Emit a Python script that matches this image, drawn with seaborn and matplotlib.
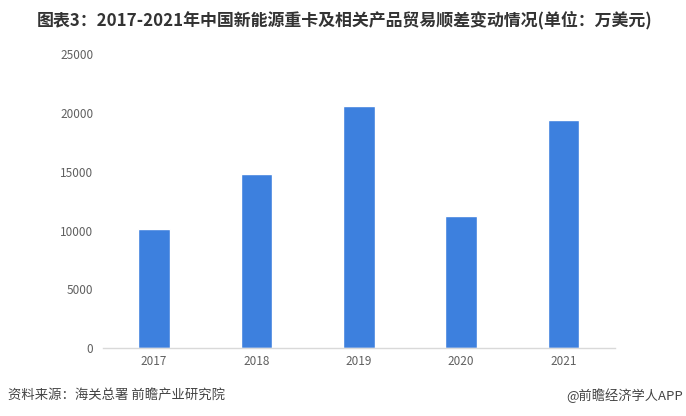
import matplotlib
matplotlib.use('Agg')
import matplotlib.pyplot as plt
import seaborn as sns
import pandas as pd

# Data (万美元)
years = ['2017', '2018', '2019', '2020', '2021']
surplus = [10150, 14800, 20600, 11250, 19400]
y_ticks = [0, 5000, 10000, 15000, 20000, 25000]

title = '图表3：2017-2021年中国新能源重卡及相关产品贸易顺差变动情况(单位：万美元)'
source = '资料来源：海关总署 前瞻产业研究院'
credit = '@前瞻经济学人APP'

sns.set_theme(style='white')
plt.rcParams['font.family'] = ['Noto Sans CJK SC', 'DejaVu Sans']

df = pd.DataFrame({'year': years, 'value': surplus})

fig = plt.figure(figsize=(6.86, 4.16), dpi=100)
ax = fig.add_axes([0.150, 0.163, 0.746, 0.707])

sns.barplot(data=df, x='year', y='value', color='#3D80DE', saturation=1,
            width=0.31, ax=ax)

ax.set_ylim(0, 25000)
ax.set_yticks(y_ticks)
ax.set_yticklabels([str(t) for t in y_ticks])
ax.set_xlim(-0.5, len(years) - 0.5)
ax.set_xlabel('')
ax.set_ylabel('')
ax.tick_params(axis='both', colors='#606060', labelsize=8.5, length=0)
ax.tick_params(axis='y', pad=7)
ax.tick_params(axis='x', pad=5)

for side in ['top', 'right', 'left']:
    ax.spines[side].set_visible(False)
ax.spines['bottom'].set_color('#d9d9d9')
ax.spines['bottom'].set_linewidth(1)

fig.text(0.502, 0.952, title, ha='center', va='center', fontsize=12.2,
         fontweight='bold', color='#333333')
fig.text(0.012, 0.05, source, ha='left', va='center', fontsize=9.6,
         color='#444444')
fig.text(0.995, 0.05, credit, ha='right', va='center', fontsize=9.5,
         color='#444444')

fig.savefig('out.png', dpi=100, facecolor='white')
